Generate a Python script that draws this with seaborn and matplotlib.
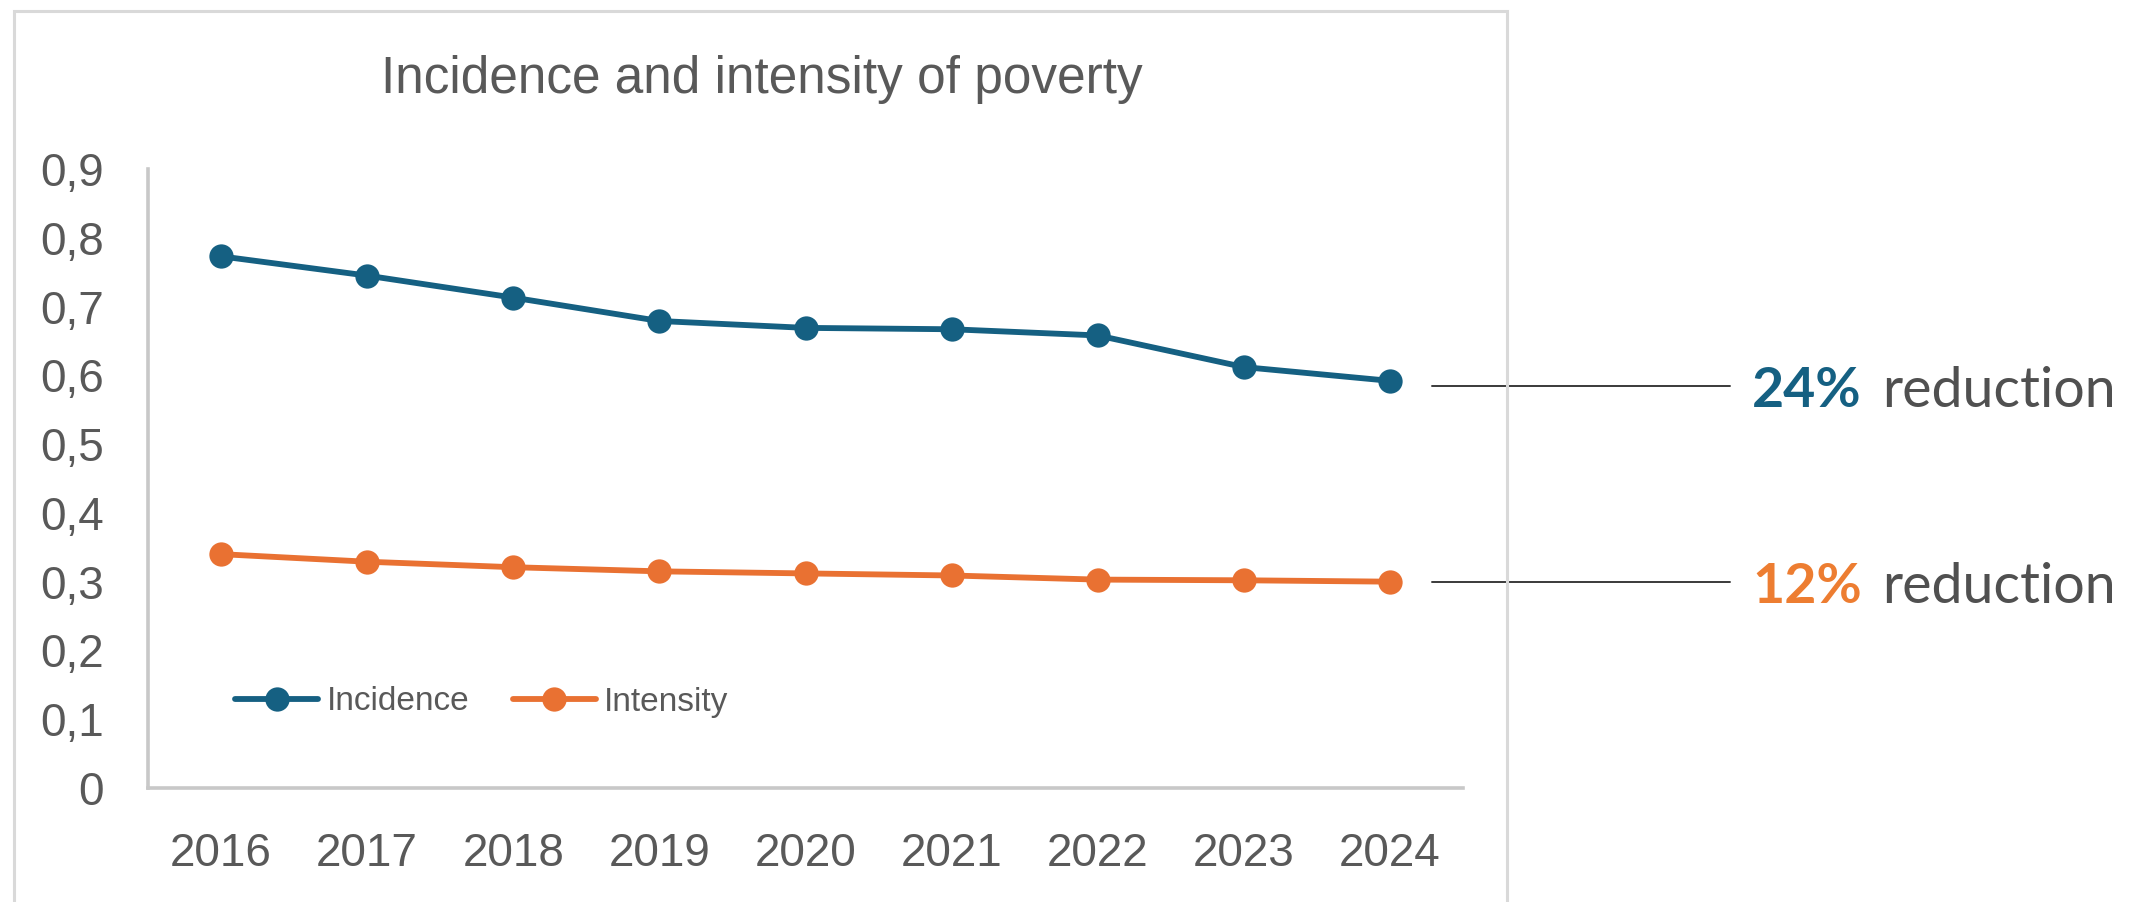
import matplotlib
matplotlib.use("Agg")
import matplotlib.pyplot as plt
import seaborn as sns
import pandas as pd
from matplotlib.patches import Rectangle
from matplotlib.transforms import blended_transform_factory

# ---- data ----
years = ["2016", "2017", "2018", "2019", "2020", "2021", "2022", "2023", "2024"]
incidence = [0.773, 0.745, 0.713, 0.679, 0.669, 0.667, 0.658, 0.612, 0.592]
intensity = [0.340, 0.329, 0.321, 0.315, 0.312, 0.309, 0.303, 0.302, 0.300]
series_names = ["Incidence", "Intensity"]
series_colors = ["#156082", "#E97132"]
yticks = [0, 0.1, 0.2, 0.3, 0.4, 0.5, 0.6, 0.7, 0.8, 0.9]
ytick_labels = ["0", "0,1", "0,2", "0,3", "0,4", "0,5", "0,6", "0,7", "0,8", "0,9"]
title = "Incidence and intensity of poverty"
callout_pct = ["24%", "12%"]
callout_word = "reduction"
callout_colors = ["#156082", "#ED7D31"]

sns.set_theme(style="white")
plt.rcParams["font.family"] = ["Liberation Sans", "DejaVu Sans"]

W, H = 2147, 902
fig = plt.figure(figsize=(W / 100, H / 100), dpi=100)
fig.patch.set_facecolor("white")

# chart border
fig.add_artist(Rectangle((14 / W, -0.1), (1507 - 14) / W, (1 - 11.5 / H) + 0.1,
                         transform=fig.transFigure, fill=False,
                         ec="#d9d9d9", lw=2.2))

ax = fig.add_axes([148 / W, 1 - 788 / H, (1463 - 148) / W, (788 - 169) / H])

series_values = [incidence, intensity]
for name, vals, col in zip(series_names, series_values, series_colors):
    df = pd.DataFrame({"Year": years, "Value": vals})
    sns.lineplot(data=df, x="Year", y="Value", color=col, marker="o",
                 markersize=17.5, markeredgewidth=0, linewidth=4.2,
                 label=name, ax=ax, sort=False)

ax.set_xlim(-0.5, len(years) - 0.5)
ax.set_ylim(0, 0.9)
ax.set_yticks(yticks)
ax.set_yticklabels(ytick_labels)
ax.set_xlabel("")
ax.set_ylabel("")
ax.tick_params(axis="both", length=0, labelsize=33, colors="#595959")
ax.tick_params(axis="y", pad=32)
ax.tick_params(axis="x", pad=32)
for s in ["top", "right"]:
    ax.spines[s].set_visible(False)
for s in ["left", "bottom"]:
    ax.spines[s].set_color("#c8c8c8")
    ax.spines[s].set_linewidth(2.6)
ax.grid(False)
ax.set_facecolor("white")

handles, labels = ax.get_legend_handles_labels()
ax.legend(handles, labels, ncol=2, frameon=False, loc="center left",
          bbox_to_anchor=(235 / W, 1 - 702 / H), bbox_transform=fig.transFigure,
          fontsize=24, handlelength=2.5, handletextpad=0.25, columnspacing=1.3,
          borderpad=0, borderaxespad=0, labelcolor="#595959")

# title
fig.text(762 / W, 1 - 79 / H, title, ha="center", va="center",
         fontsize=37, color="#595959")

# callout leader lines and texts
trans = blended_transform_factory(fig.transFigure, ax.transData)
last_vals = [incidence[-1], intensity[-1]]
line_offsets = [-0.008, 0.0]
baselines = [407, 603]
fig.canvas.draw()
renderer = fig.canvas.get_renderer()
for v, off, pct, col, bl in zip(last_vals, line_offsets, callout_pct, callout_colors, baselines):
    ax.plot([1432 / W, 1730 / W], [v + off, v + off], transform=trans,
            color="#3a3a3a", lw=1.4, clip_on=False)
    t = fig.text(1752 / W, 1 - bl / H, pct, ha="left", va="baseline",
                 fontsize=40, fontweight="bold", color=col, family=["Lato", "DejaVu Sans"])
    ext = t.get_window_extent(renderer=renderer)
    fig.text((ext.x1 + 20) / W, 1 - bl / H, callout_word, ha="left", va="baseline",
             fontsize=40, color="#505050", family=["Lato", "DejaVu Sans"])

fig.savefig("out.png", dpi=100)
